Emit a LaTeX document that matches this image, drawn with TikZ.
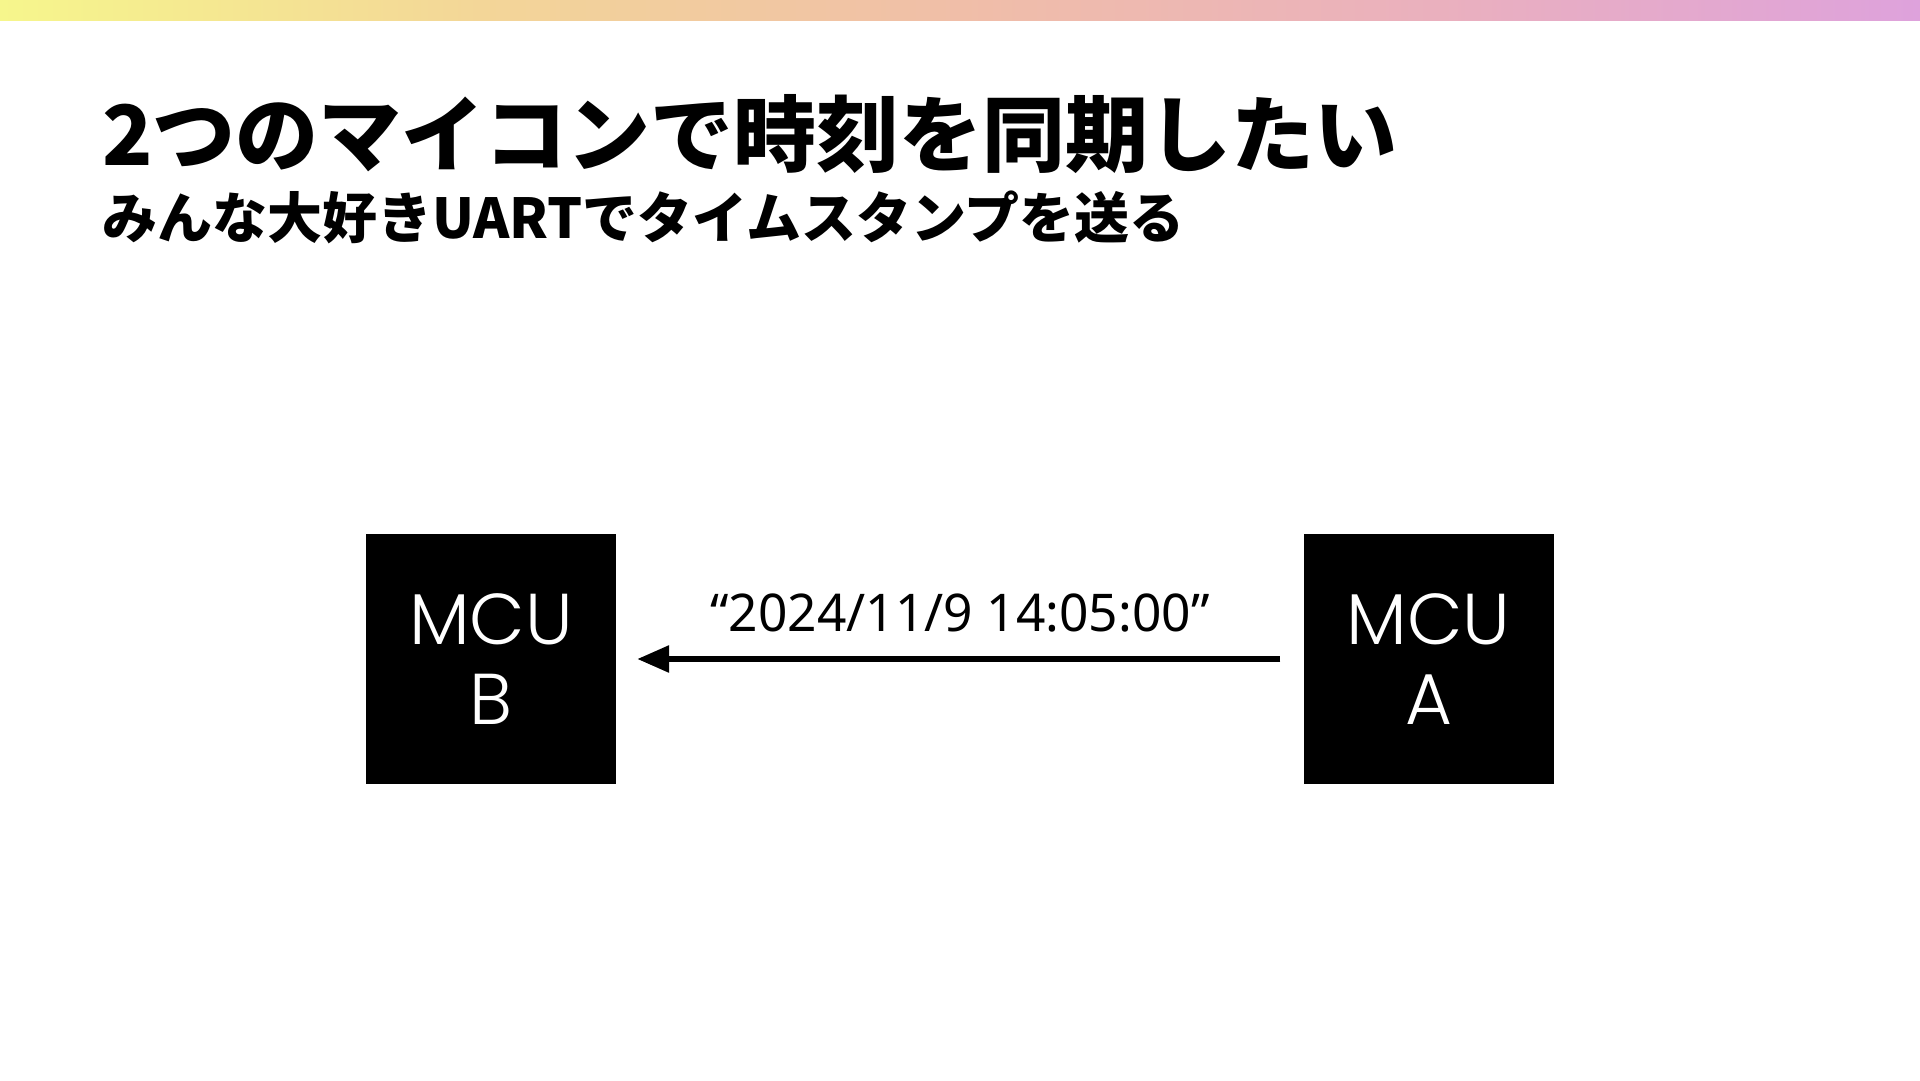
\documentclass[tikz,border=0pt]{standalone}
\usepackage{fontspec}
\usetikzlibrary{arrows.meta}
\newfontfamily\jpfont{Noto Sans CJK JP Black}
\newfontfamily\mcufont{Poppins Light}
\newfontfamily\lblfont{Noto Sans}
\definecolor{barA}{RGB}{246,246,140}
\definecolor{barB}{RGB}{243,214,152}
\definecolor{barC}{RGB}{240,190,168}
\definecolor{barD}{RGB}{234,176,190}
\definecolor{barE}{RGB}{222,162,220}
\pgfdeclarehorizontalshading{topbar}{100bp}{color(0bp)=(barA); color(25bp)=(barA); color(37.5bp)=(barB); color(50bp)=(barC); color(62.5bp)=(barD); color(75bp)=(barE); color(100bp)=(barE)}
\tikzset{
  mcubox/.style={fill=black, minimum width=250pt, minimum height=250pt, inner sep=0pt,
    text=white, align=center, font=\mcufont\fontsize{72}{80}\selectfont},
  title/.style={anchor=base west, inner sep=0pt, font=\jpfont\fontsize{83}{90}\selectfont},
  subtitle/.style={anchor=base west, inner sep=0pt, font=\jpfont\fontsize{55}{60}\selectfont},
  msg/.style={inner sep=0pt, font=\lblfont\fontsize{52}{56}\selectfont},
  arr/.style={line width=6pt, -{Triangle[length=32pt,width=26pt]}}
}
\begin{document}
\begin{tikzpicture}[x=1pt,y=-1pt]
\useasboundingbox (0,0) rectangle (1920,1080);
\fill[white] (0,0) rectangle (1920,1080);
\fill[shading=topbar] (0,0) rectangle (1920,20);
\node[title] (t) at (102,165) {2つのマイコンで時刻を同期したい};
\node[subtitle] (s) at (102,238) {みんな大好きUARTでタイムスタンプを送る};
\node[mcubox] (B) at (491,659) {MCU\\B};
\node[mcubox] (A) at (1428.5,659) {MCU\\A};
\draw[arr, shorten <=23pt, shorten >=21pt] (A) -- (B);
\node[msg] (m) at (960,613) {\scalebox{0.99}[1]{“2024/11/9 14:05:00”}};
\end{tikzpicture}
\end{document}
